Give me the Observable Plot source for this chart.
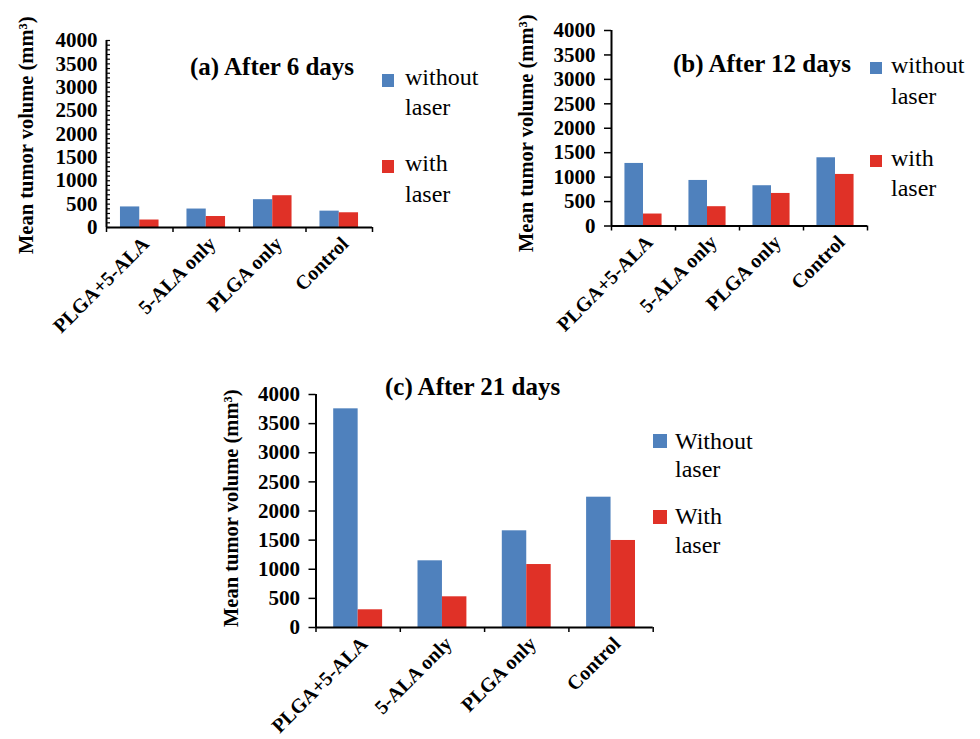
<!DOCTYPE html>
<html>
<head>
<meta charset="utf-8">
<script src="https://cdn.jsdelivr.net/npm/d3@7"></script>
<script src="https://cdn.jsdelivr.net/npm/@observablehq/plot@0.6"></script>
<style>
  html, body { margin: 0; padding: 0; background: #fff; }
  #page { position: relative; width: 980px; height: 739px; overflow: hidden;
          font-family: "Liberation Serif", "Times New Roman", serif; color: #000; }
  .box { position: absolute; }
  .t { position: absolute; white-space: nowrap; line-height: 1; }
  .title { font-weight: bold; font-size: 25px; }
  .ylab { font-weight: bold; font-size: 20.5px; width: 300px; text-align: center;
          transform: rotate(-90deg); transform-origin: 50% 50%; }
  .leg { font-size: 24px; }
  .sw { position: absolute; }
</style>
</head>
<body>
<div id="page"></div>
<script>
// ---- data ----
const categories = ["PLGA+5-ALA", "5-ALA only", "PLGA only", "Control"];
const seriesNames = ["without laser", "with laser"];
const yTicks = [0, 500, 1000, 1500, 2000, 2500, 3000, 3500, 4000];

const day6Without  = [440, 395, 595, 350];
const day6With     = [160, 235, 680, 315];
const day12Without = [1280, 932, 824, 1396];
const day12With    = [245, 395, 666, 1055];
const day21Without = [3754, 1145, 1660, 2237];
const day21With    = [304, 527, 1081, 1494];

const titles = ["(a) After 6 days", "(b) After 12 days", "(c) After 21 days"];
const legendA = [["without", "laser"], ["with", "laser"]];
const legendC = [["Without", "laser"], ["With", "laser"]];
const yLabel = "Mean tumor volume (mm³)";

// ---- styling ----
const BLUE = "#4F81BD";
const RED = "#E03127";
const PAD = 0.21;   // left gap within a category (fraction of category width)
const BAR = 0.29;   // bar width (fraction of category width)

const page = document.getElementById("page");

function addText(txt, cls, left, baseline, fs) {
  const d = document.createElement("div");
  d.className = "t " + cls;
  d.textContent = txt;
  d.style.left = left + "px";
  d.style.top = (baseline - 0.8375 * fs) + "px";
  page.appendChild(d);
}
function addYLabel(cx, cy) {
  const fs = 20.5;
  const d = document.createElement("div");
  d.className = "t ylab";
  d.textContent = yLabel;
  d.style.left = (cx - 150) + "px";
  d.style.top = (cy - fs / 2) + "px";
  page.appendChild(d);
}
function addSwatch(x, y, w, h, color) {
  const d = document.createElement("div");
  d.className = "sw";
  Object.assign(d.style, {left: x + "px", top: y + "px", width: w + "px", height: h + "px", background: color});
  page.appendChild(d);
}

function panel(cfg) {
  const rows = categories.flatMap((c, i) => [
    {i, s: 0, series: seriesNames[0], value: cfg.without[i]},
    {i, s: 1, series: seriesNames[1], value: cfg.with[i]}
  ]);
  const {box, frame} = cfg;
  const marks = [
    Plot.rect(rows, {
      x1: d => d.i + PAD + d.s * BAR,
      x2: d => d.i + PAD + (d.s + 1) * BAR,
      y1: 0, y2: "value", fill: "series"
    }),
    Plot.ruleY([0], {stroke: "#000", strokeWidth: 2}),
    Plot.ruleX([0], {stroke: "#000", strokeWidth: 2}),
    Plot.axisX({ticks: d3.range(categories.length + 1), tickFormat: () => "", tickSize: 5, strokeWidth: 1.5, label: null}),
    Plot.axisX({ticks: categories.map((c, i) => i + 0.5), tickFormat: t => categories[Math.floor(t)],
                tickSize: 0, tickPadding: 13, tickRotate: -45, dx: 6, fontSize: 20, label: null})
  ];
  if (cfg.minor) {
    marks.push(Plot.axisY({ticks: d3.range(0, 4001, 100), tickSize: 4, dx: 4, strokeWidth: 1.2,
                           tickFormat: () => "", label: null}));
    marks.push(Plot.axisY({ticks: yTicks, tickSize: 0, tickPadding: 9, tickFormat: d => String(d), label: null}));
  } else {
    marks.push(Plot.axisY({ticks: yTicks, tickSize: 7, tickPadding: 9, strokeWidth: 1.5,
                           tickFormat: d => String(d), label: null}));
  }
  const chart = Plot.plot({
    width: box.w,
    height: box.h,
    marginLeft: frame.x0 - box.left,
    marginRight: box.left + box.w - frame.x1,
    marginTop: frame.y0 - box.top,
    marginBottom: box.top + box.h - frame.y1,
    x: {domain: [0, categories.length], label: null},
    y: {domain: [0, 4000], label: null},
    color: {domain: seriesNames, range: [BLUE, RED]},
    style: {background: "transparent", fontFamily: "Liberation Serif, Times New Roman, serif",
            fontSize: "21px", fontWeight: "bold", color: "#000", overflow: "visible"},
    marks
  });
  const wrap = document.createElement("div");
  wrap.className = "box";
  Object.assign(wrap.style, {left: box.left + "px", top: box.top + "px", width: box.w + "px", height: box.h + "px"});
  wrap.appendChild(chart);
  page.appendChild(wrap);
}

panel({box: {left: 0, top: 0, w: 500, h: 350}, frame: {x0: 106, x1: 372, y0: 40, y1: 227},
       without: day6Without, with: day6With, minor: true});
panel({box: {left: 500, top: 0, w: 480, h: 350}, frame: {x0: 611, x1: 867, y0: 30, y1: 225.5},
       without: day12Without, with: day12With, minor: false});
panel({box: {left: 200, top: 350, w: 580, h: 389}, frame: {x0: 315.5, x1: 652.7, y0: 394, y1: 627},
       without: day21Without, with: day21With, minor: false});

// titles
addText(titles[0], "title", 190, 75, 25);
addText(titles[1], "title", 673, 72, 25);
addText(titles[2], "title", 385, 395, 25);

// y-axis titles
addYLabel(26, 135);
addYLabel(526, 133);
addYLabel(231, 508);

// legends
addSwatch(382, 74, 12, 13, BLUE);
addSwatch(382, 160, 12, 13, RED);
addText(legendA[0][0], "leg", 405, 85.5, 24);
addText(legendA[0][1], "leg", 405, 115, 24);
addText(legendA[1][0], "leg", 405, 171.5, 24);
addText(legendA[1][1], "leg", 405, 202, 24);

addSwatch(870, 62, 12, 12, BLUE);
addSwatch(870, 155, 12, 12, RED);
addText(legendA[0][0], "leg", 891, 73.5, 24);
addText(legendA[0][1], "leg", 891, 104, 24);
addText(legendA[1][0], "leg", 891, 166.5, 24);
addText(legendA[1][1], "leg", 891, 196.5, 24);

addSwatch(653, 434, 14, 14, BLUE);
addSwatch(653, 510, 14, 14, RED);
addText(legendC[0][0], "leg", 675, 449, 24);
addText(legendC[0][1], "leg", 675, 477, 24);
addText(legendC[1][0], "leg", 675, 524, 24);
addText(legendC[1][1], "leg", 675, 553, 24);
</script>
</body>
</html>
